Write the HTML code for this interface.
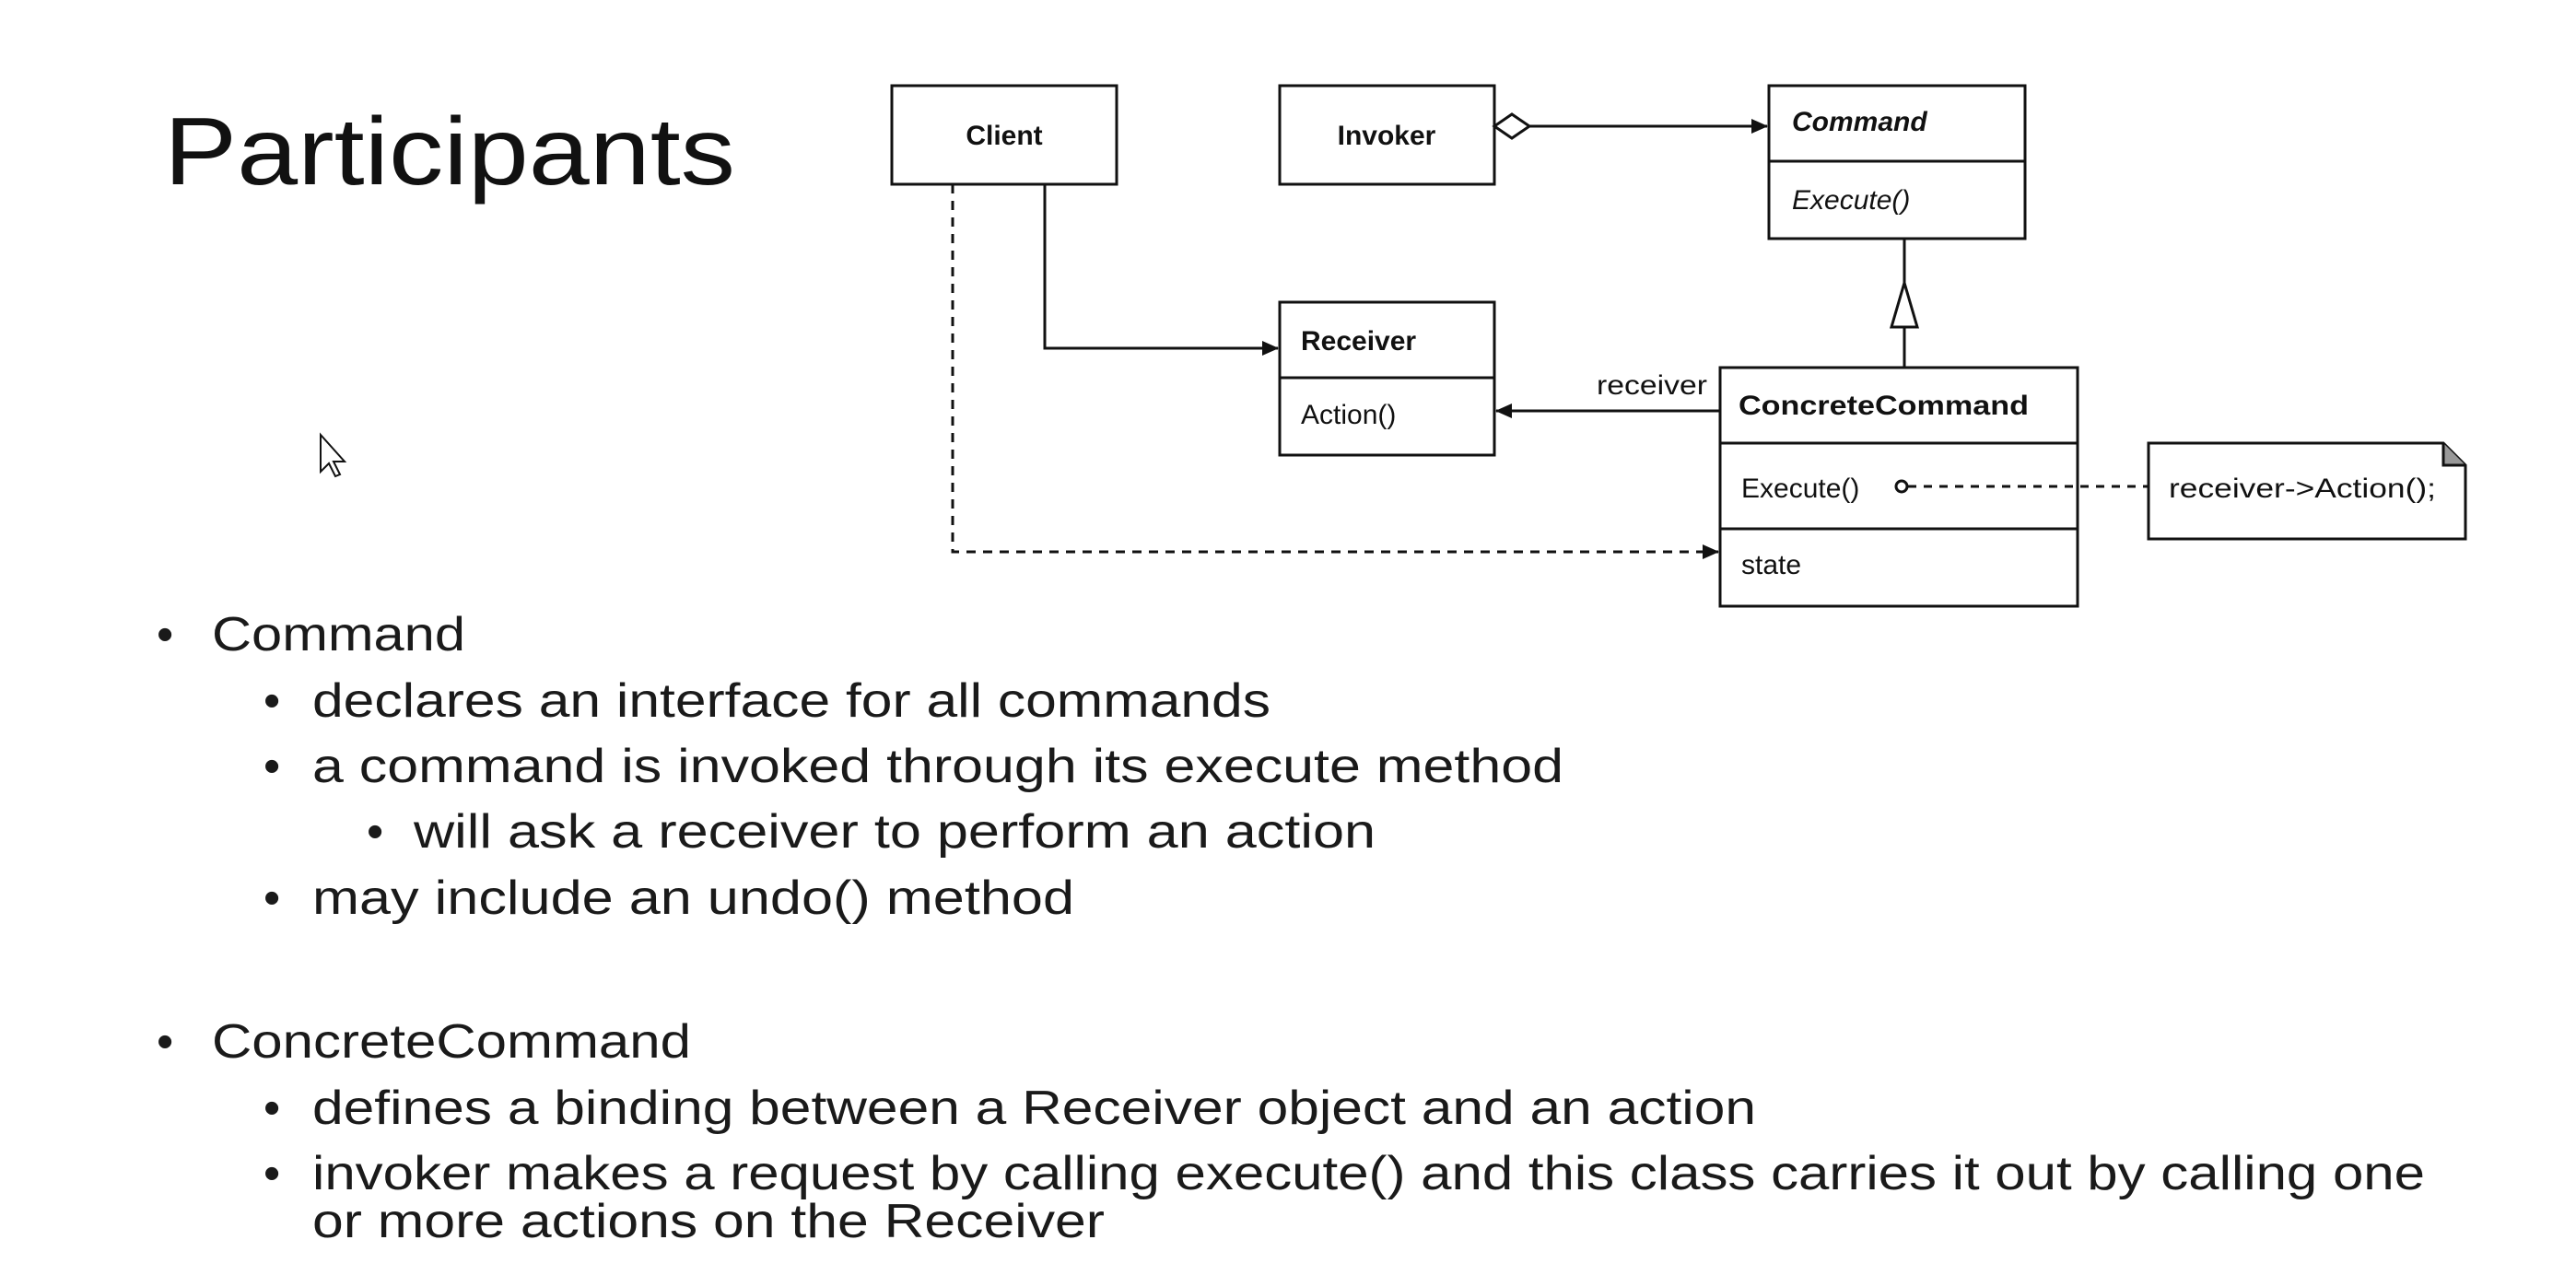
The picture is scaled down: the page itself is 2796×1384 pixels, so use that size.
<!DOCTYPE html>
<html><head><meta charset="utf-8"><style>
html,body{margin:0;padding:0;background:#fff;}
svg{display:block;}
.b{font-family:"Liberation Sans",sans-serif;font-size:52px;fill:#1a1a1a;}
.d{font-family:"Liberation Sans",sans-serif;font-size:30px;fill:#111;}
</style></head><body>
<svg width="2796" height="1384" viewBox="0 0 2796 1384" xmlns="http://www.w3.org/2000/svg">
<defs>
<marker id="fa" markerWidth="18" markerHeight="16" refX="17" refY="8" orient="auto" markerUnits="userSpaceOnUse"><path d="M0,0 L18,8 L0,16 Z" fill="#111"/></marker>
</defs>
<text x="178" y="200" font-family="Liberation Sans, sans-serif" font-size="104" fill="#111" textLength="620" lengthAdjust="spacingAndGlyphs">Participants</text>
<g stroke="#111" stroke-width="3" fill="#fff">
<rect x="968" y="93" width="244" height="107"/>
<rect x="1389" y="93" width="233" height="107"/>
<rect x="1920" y="93" width="278" height="166"/><line x1="1920" y1="175" x2="2198" y2="175"/>
<rect x="1389" y="328" width="233" height="166"/><line x1="1389" y1="410" x2="1622" y2="410"/>
<rect x="1867" y="399" width="388" height="259"/><line x1="1867" y1="481" x2="2255" y2="481"/><line x1="1867" y1="574" x2="2255" y2="574"/>
<path d="M2332,481 L2652,481 L2676,505 L2676,585 L2332,585 Z"/>
<path d="M2652,481 L2652,505 L2676,505" fill="#999"/>
</g>
<g stroke="#111" stroke-width="3" fill="none">
<path d="M1622,137 L1641,124 L1660,137 L1641,150 Z" fill="#fff"/>
<line x1="1660" y1="137" x2="1918" y2="137" marker-end="url(#fa)"/>
<path d="M1134,200 L1134,378 L1387,378" marker-end="url(#fa)"/>
<path d="M1034,200 L1034,599 L1865,599" stroke-dasharray="10,8" marker-end="url(#fa)"/>
<line x1="1867" y1="446" x2="1624" y2="446" marker-end="url(#fa)"/>
<line x1="2067" y1="355" x2="2067" y2="399"/>
<line x1="2067" y1="259" x2="2067" y2="307"/>
<path d="M2067,307 L2081,355 L2053,355 Z" fill="#fff"/>
<circle cx="2064" cy="528" r="6" fill="#fff"/>
<line x1="2071" y1="528" x2="2332" y2="528" stroke-dasharray="9,8"/>
<path d="M348,472 L348,512 L357,503 L364,517 L369,515 L362,501 L374,501 Z" stroke-width="2" fill="#fff"/>
</g>
<text class="d" x="1090" y="157" text-anchor="middle" font-weight="bold">Client</text>
<text class="d" x="1505" y="157" text-anchor="middle" font-weight="bold">Invoker</text>
<text class="d" x="1945" y="142" font-weight="bold" font-style="italic">Command</text>
<text class="d" x="1945" y="227" font-style="italic">Execute()</text>
<text class="d" x="1412" y="380" font-weight="bold">Receiver</text>
<text class="d" x="1412" y="460" >Action()</text>
<text class="d" x="1733" y="428" textLength="120" lengthAdjust="spacingAndGlyphs">receiver</text>
<text class="d" x="1887" y="450" font-weight="bold" textLength="315" lengthAdjust="spacingAndGlyphs">ConcreteCommand</text>
<text class="d" x="1890" y="540">Execute()</text>
<text class="d" x="1890" y="623">state</text>
<text class="d" x="2354" y="540" textLength="290" lengthAdjust="spacingAndGlyphs">receiver-&gt;Action();</text>
<g class="b">
<text x="170" y="706">•</text><text x="230" y="706" textLength="275" lengthAdjust="spacingAndGlyphs">Command</text>
<text x="286" y="778">•</text><text x="339" y="778" textLength="1040" lengthAdjust="spacingAndGlyphs">declares an interface for all commands</text>
<text x="286" y="849">•</text><text x="339" y="849" textLength="1358" lengthAdjust="spacingAndGlyphs">a command is invoked through its execute method</text>
<text x="398" y="920">•</text><text x="449" y="920" textLength="1044" lengthAdjust="spacingAndGlyphs">will ask a receiver to perform an action</text>
<text x="286" y="992">•</text><text x="339" y="992" textLength="827" lengthAdjust="spacingAndGlyphs">may include an undo() method</text>
<text x="170" y="1148">•</text><text x="230" y="1148" textLength="520" lengthAdjust="spacingAndGlyphs">ConcreteCommand</text>
<text x="286" y="1220">•</text><text x="339" y="1220" textLength="1567" lengthAdjust="spacingAndGlyphs">defines a binding between a Receiver object and an action</text>
<text x="286" y="1291">•</text><text x="339" y="1291" textLength="2293" lengthAdjust="spacingAndGlyphs">invoker makes a request by calling execute() and this class carries it out by calling one</text>
<text x="339" y="1343" textLength="860" lengthAdjust="spacingAndGlyphs">or more actions on the Receiver</text>
</g>
</svg>
</body></html>
